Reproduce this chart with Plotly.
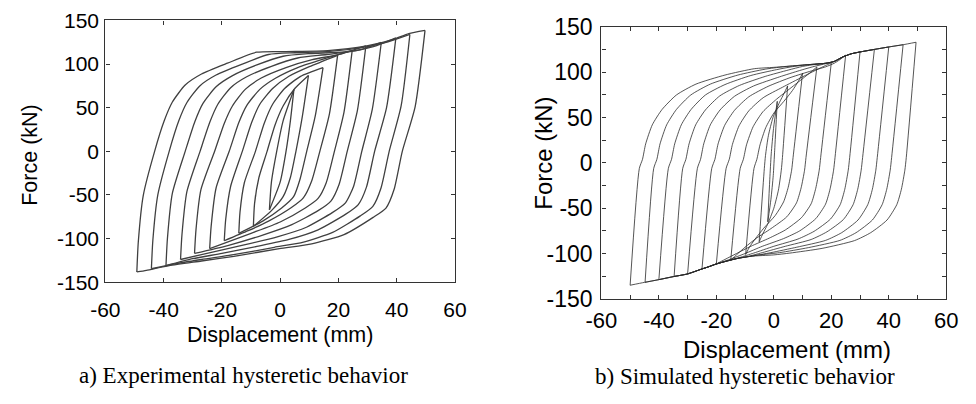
import plotly.graph_objects as go

# ---------------- Data (displacement mm, force kN) ----------------
x_tick_vals = [-60, -40, -20, 0, 20, 40, 60]
x_tick_text = ["-60", "-40", "-20", "0", "20", "40", "60"]
y_tick_vals = [-150, -100, -50, 0, 50, 100, 150]
y_tick_text = ["-150", "-100", "-50", "0", "50", "100", "150"]

# Experimental loops (a): each list = one cycle, starting at the positive peak
exp_50 = [(49.7,138.7),(46.3,51),(41.9,0),(39.1,-43.5),(36.3,-65),(31.9,-75.7),(21.9,-95.4),(10.8,-106),(-0.3,-111.5),(-15.9,-120.4),(-27,-125.7),(-38.1,-131),(-45.9,-136.4),(-49.2,-138.3),
          (-48.7,-104),(-47,-50.7),(-43.1,0),(-39.8,35),(-37,56.5),(-32.6,76),(-27,88.6),(-18.1,101),(-8.1,113.6),(1.9,114.4),(16.3,115.4),(29.7,120.8),(38.6,128),(44.1,135),(49.7,138.7)]
exp_45 = [(44.5,134),(41.5,52),(37.4,0),(34.6,-42),(31.8,-63),(27.5,-74),(18,-93),(8,-104),(-2,-110),(-16,-118.5),(-27,-124),(-37,-129.5),(-44.2,-134.6),
          (-43.7,-102),(-42,-50),(-38.1,0),(-34.8,35),(-32,56),(-27.6,75),(-22,87.5),(-13,100),(-4,111),(5,113),(17,114.5),(29,119.5),(37,125.5),(44.5,134)]
exp_40 = [(39.7,130),(36.5,50),(32.4,0),(29.6,-41),(26.8,-61),(22.5,-72),(13,-90),(3,-101),(-8,-109),(-20,-117),(-30,-123),(-39.2,-131),
          (-38.7,-100),(-37,-48),(-32.6,0),(-29.3,34),(-26.5,55),(-22,74),(-16.5,86.5),(-8,99),(1,109),(10,112),(22,114),(32,120),(39.7,130)]
exp_35 = [(34.7,125),(31.6,48),(28,0),(25.2,-40),(22.4,-59),(18,-70),(9,-87),(-1,-98),(-12,-107),(-24,-116),(-34.2,-124),
          (-33.7,-95),(-32,-46),(-27.5,0),(-24.2,33),(-21.4,54),(-17,73),(-11.5,85.5),(-3,97.5),(6,107),(16,111),(27,116),(34.7,125)]
exp_30 = [(29.4,121),(26.5,47),(23,0),(20.2,-38),(17.4,-57),(13,-68),(4,-84),(-6,-96),(-18,-108),(-29.4,-117),
          (-28.9,-90),(-27.2,-44),(-22.5,0),(-19.2,32),(-16.4,52),(-12,71),(-6.5,84),(2,96),(11,105),(20,111),(29.4,121)]
exp_25 = [(24.7,115.4),(21.9,45),(18.6,0),(15.8,-36),(13,-54),(8.6,-65),(0,-81),(-10,-94),(-24.2,-111.5),
          (-23.7,-86),(-22,-42),(-17.5,0),(-14.2,33),(-11.4,53),(-7,71),(-1.5,84),(6,96),(15,106),(24.7,115.4)]
exp_20 = [(19.7,110),(16.9,43),(13.6,0),(10.8,-34),(8,-53),(3.6,-65),(-4,-80),(-11,-91),(-19.2,-102.5),
          (-18.7,-78),(-17,-40),(-13,0),(-9.8,33),(-7,54),(-2.6,72),(3,86),(10,97),(19.7,110)]
exp_15 = [(14.7,96),(12,40),(9.1,0),(6.8,-32),(4.6,-52),(0.5,-65),(-6,-80),(-14.2,-94),
          (-13.8,-70),(-12.3,-36),(-8.5,0),(-5.5,32),(-2.6,54),(1.5,72),(7,86),(14.7,96)]
exp_10 = [(9.7,87),(7.6,40),(5.4,0),(3.5,-30),(1,-52),(-3,-68),(-9.2,-86),
          (-8.8,-60),(-7.3,-30),(-4.5,0),(-1.8,30),(1,52),(5,72),(9.7,87)]
exp_5 = [(4.7,70.7),(3.5,35),(2,0),(0,-35),(-3.7,-67),
         (-3,-35),(-1.2,0),(1,35),(4.7,70.7)]

# Simulated loops (b)
sim_50 = [(49.5,133.2),(46.1,6),(45.6,-8),(44.4,-29),(42.8,-46),(39.4,-63),(33.7,-77),(28.1,-85.7),(16.8,-94.3),(5.6,-99.5),(0,-101.5),(-8,-103),(-12,-105),(-16,-108),(-20,-111.5),(-23,-115),(-25,-117),(-30,-122.5),(-35,-125.5),(-40,-128.8),(-45,-131.8),(-50,-135),
          (-46.8,-6),(-45.7,4),(-44.6,21),(-42.3,42),(-38.9,59),(-33.9,75),(-27.1,87),(-17,97),(-6.8,104),(0,105.5),(10,108),(18,110),(21,112),(24,117),(27,120.5),(30,122.5),(35,125.3),(40,128),(45,130.5),(49.5,133.2)]
sim_45 = [(45,130.5),(41,6),(40.5,-8),(39.3,-29),(37.7,-46),(34.3,-63),(28.6,-77),(23,-85.5),(12,-93.5),(2,-99),(-5,-101.5),(-8,-103),(-12,-105),(-16,-108),(-20,-111.5),(-23,-115),(-25,-117),(-30,-122.5),(-35,-125.5),(-40,-128.8),(-44.8,-131.8),
          (-41.8,-6),(-40.7,4),(-39.6,21),(-37.3,42),(-33.9,59),(-28.9,75),(-22.1,87),(-12.5,97),(-3,103.5),(3,106),(10,108),(18,110),(21,112),(24,117),(27,120.5),(30,122.5),(35,125.3),(40,128),(45,130.5)]
sim_40 = [(40,128),(36,6),(35.5,-8),(34.3,-29),(32.7,-46),(29.3,-63),(23.6,-77),(18,-85.5),(8,-93),(-1,-99),(-8,-103),(-12,-105),(-16,-108),(-20,-111.5),(-23,-115),(-25,-117),(-30,-122.5),(-35,-125.5),(-40,-128.8),
          (-36.7,-6),(-35.6,4),(-34.5,21),(-32.2,42),(-28.8,59),(-23.8,75),(-17,86.5),(-8,96.5),(1,103),(6,106),(12,108.5),(18,110),(21,112),(24,117),(27,120.5),(30,122.5),(35,125.3),(40,128)]
sim_35 = [(35,125.3),(30.9,6),(30.4,-8),(29.2,-29),(27.6,-46),(24.2,-62.5),(18.5,-76),(13,-84.5),(4,-92),(-4,-99),(-10,-104),(-13,-105.5),(-16,-108),(-20,-111.5),(-23,-115),(-25,-117),(-30,-122.5),(-34.7,-125.3),
          (-31.7,-6),(-30.6,4),(-29.5,21),(-27.2,42),(-23.8,58.5),(-18.8,74),(-12,85.5),(-3,95.5),(5,102.5),(10,106.5),(15,109),(18,110),(21,112),(24,117),(27,120.5),(30,122.5),(35,125.3)]
sim_30 = [(30,122.5),(26.4,6),(25.9,-8),(24.7,-29),(23.1,-46),(19.7,-62),(14,-75.5),(8.4,-84),(0,-92),(-7,-99.5),(-12,-104.5),(-16,-108),(-20,-111.5),(-23,-115),(-25,-117),(-30,-122.5),
          (-26.6,-6),(-25.5,4),(-24.4,21),(-22.1,42),(-18.7,58.5),(-13.7,73.5),(-7,85),(2,95),(9,102),(14,106.5),(18,109.5),(21,112),(24,117),(27,120.5),(30,122.5)]
sim_25 = [(25,119),(21.3,6),(20.8,-8),(19.6,-28.5),(18,-45.5),(14.6,-61.5),(9,-75),(3.4,-83.5),(-4,-92),(-10,-100),(-15,-106),(-18,-109.5),(-21,-112.5),(-25,-117),
          (-21.6,-6),(-20.5,4),(-19.4,21),(-17.1,41.5),(-13.7,58),(-8.7,73),(-2,84.5),(6,94.5),(13,101.5),(18,106),(21,110),(23,114),(25,119)]
sim_20 = [(20,110.5),(16.3,6),(15.8,-8),(14.6,-28),(13,-45),(9.6,-60.5),(4,-74),(-1.6,-83),(-8,-92),(-13,-100),(-17,-106.5),(-20,-111.5),
          (-16.6,-6),(-15.5,4),(-14.4,20.5),(-12.1,41),(-8.7,57.5),(-3.7,72),(3,83.5),(10,95),(15,103),(18,107.5),(20,110.5)]
sim_15 = [(15,106),(11.2,6),(10.7,-8),(9.5,-27.5),(7.9,-44),(4.5,-59.5),(-1,-72.5),(-6,-83),(-10,-93),(-13,-101.5),(-15,-107.5),
          (-11.7,-6),(-10.6,4),(-9.5,20),(-7.2,40),(-3.8,56.5),(1,70.5),(6,83),(10,93),(13,100.5),(15,106)]
sim_10 = [(10,99),(6.7,6),(6.2,-8),(5,-27),(3.4,-43),(0.5,-58),(-3.5,-72),(-6.5,-84),(-8.5,-93),(-9.8,-101),
          (-6.9,-6),(-5.9,4),(-4.8,20),(-2.8,39),(0,55),(3.5,68),(6.5,80),(8.5,90),(10,99)]
sim_5 = [(4.8,85),(3,6),(2.6,-8),(1.6,-30),(0,-50),(-2.2,-68),(-3.8,-78),(-5.1,-87),
         (-3.3,-6),(-2.9,8),(-1.9,30),(-0.3,50),(2,67),(3.6,77),(4.8,85)]
sim_1 = [(1.2,68),(0.3,14),(-0.2,-14),(-1,-40),(-2.1,-65),
         (-1.4,-18),(-0.9,10),(-0.1,38),(1.2,68)]

exp_loops = [exp_50, exp_45, exp_40, exp_35, exp_30, exp_25, exp_20, exp_15, exp_10, exp_5]
sim_loops = [sim_50, sim_45, sim_40, sim_35, sim_30, sim_25, sim_20, sim_15, sim_10, sim_5, sim_1]

W, H = 976, 404
fig = go.Figure()


def add_loop(loop, xa, ya, color, width):
    # split into descending branch (to the negative peak) and ascending branch
    k = min(range(len(loop)), key=lambda i: loop[i][1])
    for part in (loop[:k + 1], loop[k:]):
        fig.add_trace(go.Scatter(
            x=[p[0] for p in part], y=[p[1] for p in part], xaxis=xa, yaxis=ya,
            mode="lines", line=dict(color=color, width=width, shape="spline", smoothing=0.6),
            showlegend=False, hoverinfo="skip"))


for lp in exp_loops:
    add_loop(lp, "x", "y", "#404040", 1.3)
for lp in sim_loops:
    add_loop(lp, "x2", "y2", "#2a2a2a", 0.8)

sans = "Liberation Sans, Arial, sans-serif"
serif = "Liberation Serif, Times New Roman, serif"


def px_x(p):
    return p / W


def px_y(p):
    return 1 - p / H


axis_common = dict(showgrid=False, zeroline=False, showline=True, mirror="ticks",
                   ticks="inside", ticklen=4, tickcolor="#333", linecolor="#333",
                   linewidth=1.3, tickwidth=1)

fig.update_layout(
    width=W, height=H, margin=dict(l=0, r=0, t=0, b=0),
    paper_bgcolor="white", plot_bgcolor="white",
    xaxis=dict(domain=[px_x(92), px_x(452)], range=[-60, 60], tickvals=x_tick_vals, ticktext=x_tick_text,
               anchor="y", tickfont=dict(family=sans, size=21, color="black"),
               ticklabelstandoff=8, **axis_common),
    yaxis=dict(domain=[px_y(287.7), px_y(8)], range=[-150, 150], tickvals=y_tick_vals, ticktext=y_tick_text,
               anchor="x", tickfont=dict(family=sans, size=21, color="black"),
               ticklabelstandoff=1, **axis_common),
    xaxis2=dict(domain=[px_x(602.7), px_x(957.7)], range=[-60, 60], tickvals=x_tick_vals, ticktext=x_tick_text,
                anchor="y2", tickfont=dict(family=sans, size=22, color="black"),
                minor=dict(dtick=10, tick0=0, ticks="inside", ticklen=4, tickcolor="#333"),
                ticklabelstandoff=2, **axis_common),
    yaxis2=dict(domain=[px_y(305.5), px_y(15)], range=[-150, 150], tickvals=y_tick_vals, ticktext=y_tick_text,
                anchor="x2", tickfont=dict(family=sans, size=23, color="black"),
                minor=dict(dtick=25, tick0=0, ticks="inside", ticklen=4, tickcolor="#333"),
                ticklabelstandoff=3, **axis_common),
)

ann = [
    dict(text="Displacement (mm)", x=px_x(272), y=px_y(344), size=21.5, font=sans, angle=0),
    dict(text="Force (kN)", x=px_x(15), y=px_y(152), size=21.5, font=sans, angle=-90),
    dict(text="Displacement (mm)", x=px_x(794), y=px_y(360), size=24, font=sans, angle=0),
    dict(text="Force (kN)", x=px_x(543), y=px_y(150), size=24, font=sans, angle=-90),
    dict(text="a) Experimental hysteretic behavior", x=px_x(234), y=px_y(387), size=23, font=serif, angle=0),
    dict(text="b) Simulated hysteretic behavior", x=px_x(751), y=px_y(389), size=23, font=serif, angle=0),
]
for a in ann:
    fig.add_annotation(text=a["text"], x=a["x"], y=a["y"], xref="paper", yref="paper",
                       xanchor="center", yanchor="middle", showarrow=False, textangle=a["angle"],
                       font=dict(family=a["font"], size=a["size"], color="black"))

fig.write_html("out.html")
